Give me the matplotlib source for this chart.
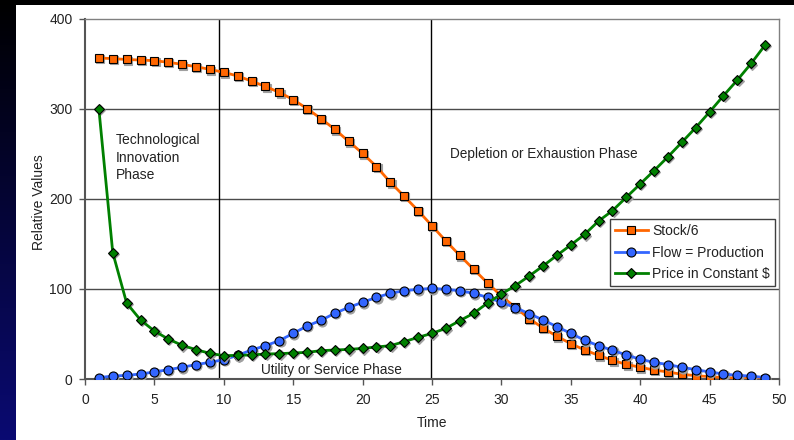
import matplotlib
matplotlib.use("Agg")
import matplotlib.pyplot as plt
import matplotlib.transforms as mtransforms
import numpy as np
from matplotlib.patches import Rectangle

plt.rcParams['font.family'] = ['Liberation Sans', 'DejaVu Sans']

time = list(range(1, 50))
stock = [356.7, 356, 355, 354.4, 353.7, 351.9, 349.6, 347, 344, 340.7,
         336.7, 331, 325, 318.5, 310.4, 300.4, 289.3, 277.4, 264, 250.7,
         236, 218.5, 203, 187, 170.2, 153.3, 137.4, 121.9, 106.7, 92.2,
         79.6, 67, 56.7, 47.4, 39.3, 32.2, 26.3, 20.7, 16.3, 13,
         10, 7.8, 5.2, 3.7, 2.6, 1.5, 1.1, 0.4, 0.2]
flow = [1.5, 3.3, 4, 5.6, 7.8, 10.4, 13, 16, 18.5, 21.5,
        26.3, 32.2, 37, 42.6, 50.7, 58.9, 65.2, 73, 79.6, 85.2,
        90.7, 95.2, 98.1, 99.6, 100.7, 99.6, 98.1, 95.2, 90.7, 85.2,
        79.3, 72.6, 65.6, 58.1, 50.7, 43, 37, 31.9, 26.7, 21.9,
        18.5, 16, 13, 10.4, 7.8, 5.6, 4, 3.3, 1.5]
price = [300, 140.4, 84.4, 65.6, 53.3, 44.4, 37.4, 32.6, 28.5, 25.9,
         26.3, 26.7, 27.8, 28.1, 28.9, 29.6, 31.5, 32.2, 32.9, 34,
         35.6, 37, 41.5, 46.3, 50.7, 56.3, 64.8, 73, 84.4, 94.4,
         103.7, 114.4, 125.6, 137.4, 148.9, 160.7, 175.5, 187, 201.9, 216.7,
         231.5, 246.9, 263, 279.3, 296.7, 314.8, 332.2, 350.7, 371.1]

series_labels = ["Stock/6", "Flow = Production", "Price in Constant $"]
phase_vlines = [9.67, 24.93]

W, H = 794, 440
fig = plt.figure(figsize=(W / 100, H / 100), dpi=100)
fig.patch.set_facecolor('black')

# background axes: white panel + left gradient strip
bg = fig.add_axes([0, 0, 1, 1], zorder=-5)
bg.set_axis_off()
grad = np.linspace(0, 1, 256).reshape(-1, 1)
cmap = matplotlib.colors.LinearSegmentedColormap.from_list('g', ['#000000', '#0a0a72'])
bg.imshow(grad, aspect='auto', cmap=cmap, extent=[0, 16, H, 0], origin='upper')
bg.add_patch(Rectangle((16, 5), W - 16, H - 5, facecolor='white', edgecolor='none'))
bg.set_xlim(0, W)
bg.set_ylim(H, 0)

ax = fig.add_axes([85 / W, 1 - 379 / H, (779 - 85) / W, (379 - 19) / H])
ax.set_facecolor('white')

ax.set_xlim(0, 50)
ax.set_ylim(0, 400)
ax.set_xticks(range(0, 51, 5))
ax.set_yticks(range(0, 401, 100))

for yv in [100, 200, 300]:
    ax.axhline(yv, color='#4a4a4a', lw=1.0, zorder=1)
for xv in phase_vlines:
    ax.axvline(xv, color='black', lw=1.0, zorder=1)

shadow = mtransforms.offset_copy(ax.transData, fig=fig, x=1.2, y=-1.2, units='dots')
specs = [(stock, '#ff6600', 's', 5.5), (flow, '#3366ff', 'o', 6.5), (price, '#008000', 'D', 5.5)]
for i, (vals, col, mk, ms) in enumerate(specs):
    ax.plot(time, vals, ls='none', marker=mk, ms=ms, mfc='#a0a0a0', mec='#a0a0a0',
            mew=0.8, transform=shadow, zorder=2.5 + i)
    ax.plot(time, vals, color=col, lw=2, marker=mk, ms=ms, mfc=col,
            mec='black', mew=0.8, label=series_labels[i], zorder=3 + i)

for s in ['top', 'right']:
    ax.spines[s].set_color('#808080')
    ax.spines[s].set_linewidth(1.0)
for s in ['left', 'bottom']:
    ax.spines[s].set_color('#555555')
    ax.spines[s].set_linewidth(1.5)

ax.tick_params(axis='both', direction='out', length=4, width=1, color='#555555',
               labelsize=10, labelcolor='#222222', pad=5)
ax.tick_params(axis='x', pad=6)

ax.set_xlabel('Time', fontsize=10, color='#222222')
ax.set_ylabel('Relative Values', fontsize=10, color='#222222')
ax.xaxis.set_label_coords(0.5, -0.103)
ax.yaxis.set_label_coords(-0.056, 0.49)

ax.text(2.2, 273, 'Technological\nInnovation\nPhase', fontsize=10, color='#222222',
        va='top', ha='left', linespacing=1.3)
ax.text(26.3, 250, 'Depletion or Exhaustion Phase', fontsize=9.8, color='#222222',
        va='center', ha='left')
ax.text(12.7, 10, 'Utility or Service Phase', fontsize=9.8, color='#222222',
        va='center', ha='left')

leg = ax.legend(loc='upper right', bbox_to_anchor=(0.994, 0.444), fontsize=10,
                frameon=True, fancybox=False, framealpha=1, edgecolor='#404040',
                borderpad=0.35, labelspacing=0.55, handlelength=2.4, handletextpad=0.3,
                borderaxespad=0)
leg.get_frame().set_linewidth(1.0)
for t in leg.get_texts():
    t.set_color('#222222')

fig.savefig('out.png', dpi=100, facecolor=fig.get_facecolor())
